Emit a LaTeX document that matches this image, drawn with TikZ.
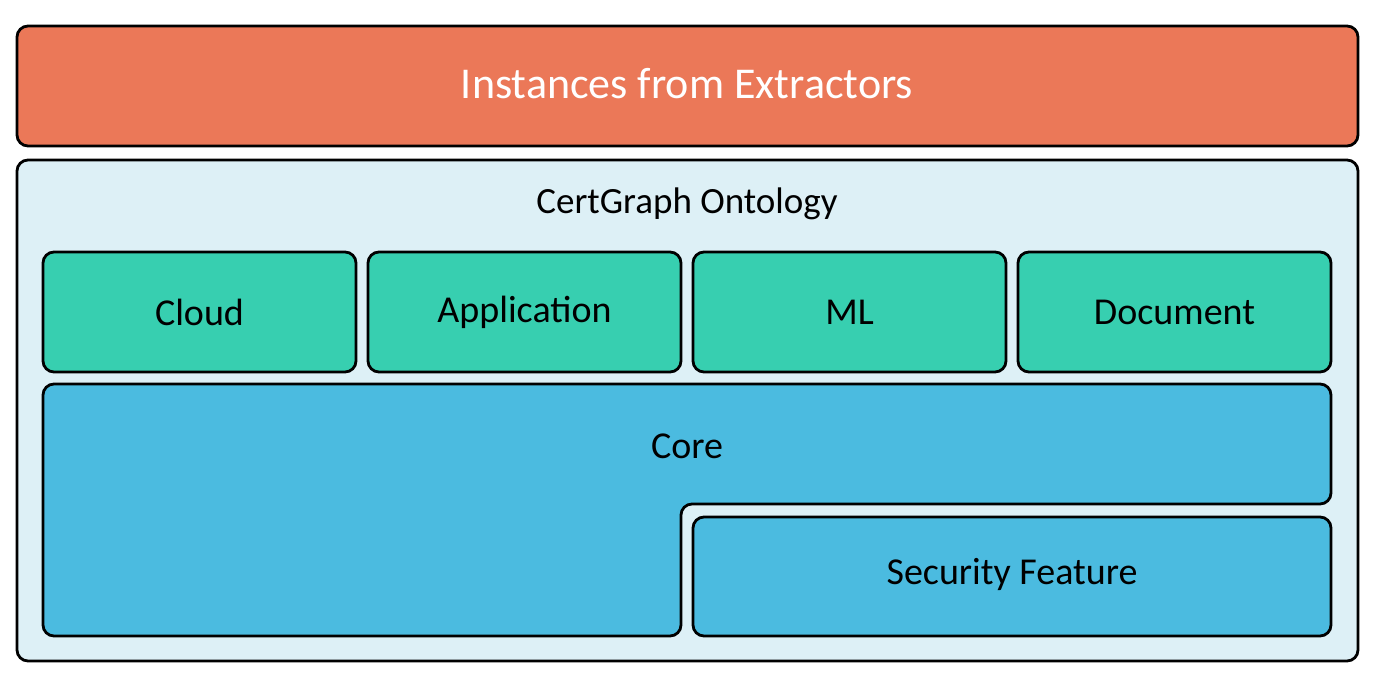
\documentclass[tikz,border=0pt]{standalone}
\usepackage{fontspec}
\setmainfont{Carlito}
\definecolor{topc}{HTML}{EB7858}
\definecolor{bgc}{HTML}{DDF0F6}
\definecolor{grn}{HTML}{37CFB0}
\definecolor{blu}{HTML}{4BBBE0}
\tikzset{box/.style={draw=black,line width=2.8pt,rounded corners=11pt},
lbl/.style={font=\fontsize{38}{42}\selectfont}}
\begin{document}
\begin{tikzpicture}[x=1pt,y=-1pt]
\useasboundingbox (0,0) rectangle (1385,679);
\draw[box,fill=topc] (17,26) rectangle (1358,146);
\node[font=\fontsize{44}{48}\selectfont,text=white] (inst) at (687,84) {Instances from Extractors};
\draw[box,fill=bgc] (17,160) rectangle (1358,661);
\node[font=\fontsize{37}{41}\selectfont] (onto) at (687,204) {CertGraph Ontology};
\foreach \x/\t/\n in {43/Cloud/c,368/Application/a,693/ML/m,1018/Document/d}{
  \draw[box,fill=grn] (\x,252) rectangle (\x+313,372);
  \node[lbl] (\n) at (\x+156.5,312) {\t};
}
\draw[box,fill=blu] (43,384) -- (1331,384) -- (1331,504) -- (681,504) -- (681,636) -- (43,636) -- cycle;
\node[lbl] (core) at (687,446) {Core};
\draw[box,fill=blu] (693,517) rectangle (1331,636);
\node[lbl] (sec) at (1012,574) {Security Feature};
\end{tikzpicture}
\end{document}
